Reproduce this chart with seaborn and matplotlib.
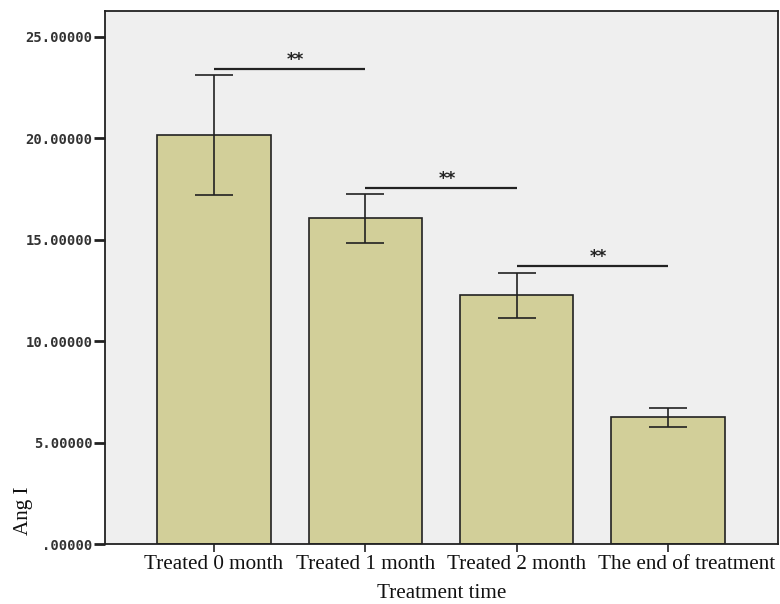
import matplotlib
matplotlib.use("Agg")
import matplotlib.pyplot as plt
import matplotlib.transforms as mtransforms
import seaborn as sns
import pandas as pd

# Ang I by treatment time: group means and error-bar half widths
categories = ["Treated 0 month", "Treated 1 month", "Treated 2 month", "The end of treatment"]
means = [20.17, 16.05, 12.27, 6.26]
errors = [2.96, 1.19, 1.11, 0.47]
ytick_values = [0, 5, 10, 15, 20, 25]
ytick_labels = [".00000", "5.00000", "10.00000", "15.00000", "20.00000", "25.00000"]
# significance brackets between neighbouring groups: (from, to, height)
sig_pairs = [(0, 1, 23.4), (1, 2, 17.55), (2, 3, 13.7)]
sig_label = "**"

df = pd.DataFrame({"time": categories, "ang": means})

sns.set_style("white")
plt.rcParams["font.family"] = ["DejaVu Sans"]

fig = plt.figure(figsize=(7.8, 6.04), dpi=100)
ax = fig.add_axes([0.1346, 0.0993, 0.9974 - 0.1346, 0.9818 - 0.0993])
ax.set_facecolor("#efefef")

sns.barplot(data=df, x="time", y="ang", order=categories, color="#d2cf99",
            saturation=1, width=0.75, edgecolor="#222222", linewidth=1.2,
            errorbar=None, ax=ax)

ax.errorbar(range(len(categories)), means, yerr=errors, fmt="none",
            ecolor="#222222", elinewidth=1.2, capsize=14, capthick=1.2)

for i, j, h in sig_pairs:
    ax.plot([i, j], [h, h], color="#222222", lw=1.6, solid_capstyle="butt")
    ax.text((i + j) / 2 + 0.04, h + 0.45, sig_label, ha="center", va="center",
            fontsize=12, fontweight="bold", color="#222222")

ax.set_xlim(-0.72, 3.726)
ax.set_ylim(0, 26.28)
ax.set_yticks(ytick_values)
ax.set_yticklabels(ytick_labels, family="DejaVu Sans Mono", fontweight="bold",
                   fontsize=10, color="#333333")
ax.set_xticks(range(len(categories)))
ax.set_xticklabels(categories, family="Liberation Serif", fontsize=15.2, color="#111111")
ax.tick_params(axis="y", direction="out", length=8, width=2, color="#222222", pad=1, left=True)
ax.tick_params(axis="x", direction="out", length=6, width=1.2, color="#222222", pad=2, bottom=True)

# nudge the long last category label right so it clears its neighbour
last = ax.get_xticklabels()[-1]
last.set_transform(last.get_transform() +
                   mtransforms.ScaledTranslation(0.18, 0, fig.dpi_scale_trans))

for s in ax.spines.values():
    s.set_visible(True)
    s.set_color("#222222")
    s.set_linewidth(1.3)

ax.set_xlabel("Treatment time", family="Liberation Serif", fontsize=15.2, color="#111111", labelpad=7)
ax.set_ylabel("Ang I", family="Liberation Serif", fontsize=15.2, color="#111111")
ax.yaxis.set_label_coords(-0.107, 0.062)

fig.savefig("out.png", dpi=100, facecolor="white")
